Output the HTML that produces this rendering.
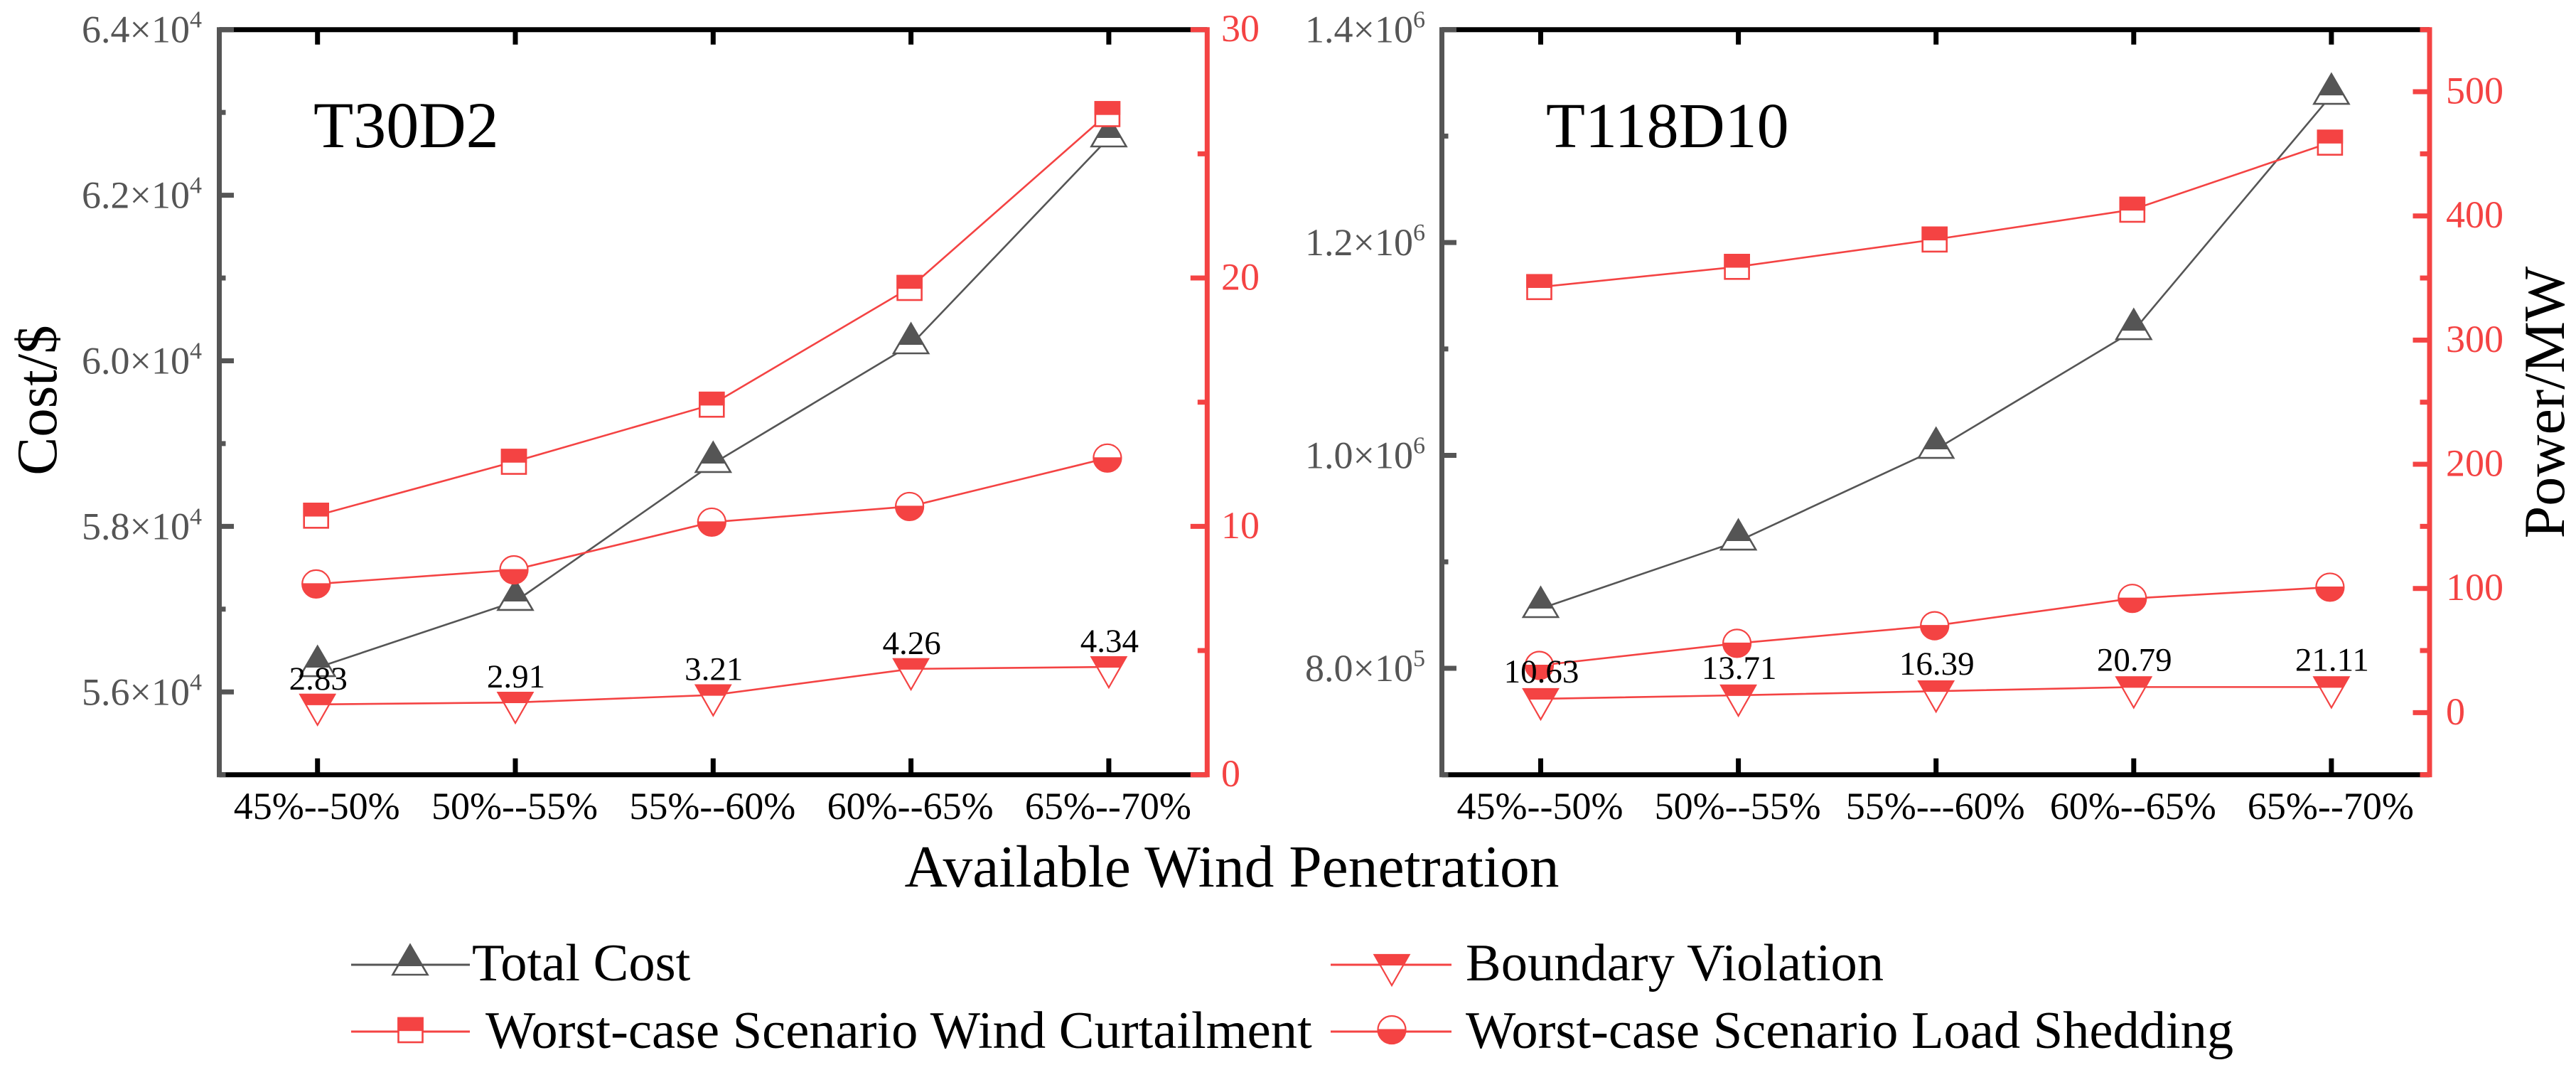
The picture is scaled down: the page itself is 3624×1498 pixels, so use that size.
<!DOCTYPE html>
<html lang="en">
<head>
<meta charset="utf-8">
<title>Cost and power versus available wind penetration</title>
<style>
html,body{margin:0;padding:0;background:#fff;}
body{width:3624px;height:1498px;overflow:hidden;}
svg{display:block;}
text{font-family:"Liberation Serif","Times New Roman",serif;}
</style>
</head>
<body>
<svg id="chart" xmlns="http://www.w3.org/2000/svg" width="3624" height="1498" viewBox="0 0 3624 1498"></svg>
<script>
// ---------- data ----------
const categoriesA = ['45%--50%','50%--55%','55%--60%','60%--65%','65%--70%'];
const categoriesB = ['45%--50%','50%--55%','55%---60%','60%--65%','65%--70%'];

const costA = [56294, 57093, 58759, 60193, 62692];
const windA = [10.43, 12.6, 14.9, 19.6, 26.6];
const loadA = [7.68, 8.25, 10.17, 10.8, 12.75];
const boundaryA = [2.83, 2.91, 3.21, 4.26, 4.34];
const boundaryLabelsA = ['2.83','2.91','3.21','4.26','4.34'];

const costB = [856090, 919540, 1005700, 1117200, 1338300];
const windB = [342.7, 359, 381, 405, 459];
const loadB = [38, 55.8, 70, 92, 101];
const boundaryB = [11.1, 14, 17.3, 20.6, 20.6];
const boundaryLabelsB = ['10.63','13.71','16.39','20.79','21.11'];

const leftMajorA = [56000, 58000, 60000, 62000, 64000];
const leftMantissaA = ['5.6','5.8','6.0','6.2','6.4'];
const leftExponentA = ['4','4','4','4','4'];
const leftMinorA = [55000, 57000, 59000, 61000, 63000];
const rightMajorA = [0, 10, 20, 30];
const rightMinorA = [5, 15, 25];

const leftMajorB = [800000, 1000000, 1200000, 1400000];
const leftMantissaB = ['8.0','1.0','1.2','1.4'];
const leftExponentB = ['5','6','6','6'];
const leftMinorB = [700000, 900000, 1100000, 1300000];
const rightMajorB = [0, 100, 200, 300, 400, 500];
const rightMinorB = [-50, 50, 150, 250, 350, 450, 550];

// ---------- drawing ----------
const GRAY = '#555555';
const RED = '#f44343';
const NS = 'http://www.w3.org/2000/svg';
const svg = document.getElementById('chart');

function mk(parent, tag, attrs, name, interactable) {
  const el = document.createElementNS(NS, tag);
  for (const k in attrs) el.setAttribute(k, attrs[k]);
  
  
  parent.appendChild(el);
  return el;
}
function label(parent, x, y, str, size, fill, name, anchor) {
  const t = mk(parent, 'text', {x: x, y: y, 'font-size': size, fill: fill, 'text-anchor': anchor || 'start'}, name, false);
  t.textContent = str;
  return t;
}
function marker(parent, kind, x, y, color, name) {
  const g = mk(parent, 'g', {}, name, false);
  if (kind === 'up') {
    mk(g, 'path', {d: `M${x} ${y-30}L${x+24.5} ${y+12}L${x-24.5} ${y+12}Z`, fill: '#fff', stroke: color, 'stroke-width': 2.6}, name + '-outline', false);
    const w = 24.5 * 30 / 42;
    mk(g, 'path', {d: `M${x} ${y-30}L${x+w} ${y}L${x-w} ${y}Z`, fill: color}, name + '-fill', false);
  } else if (kind === 'down') {
    mk(g, 'path', {d: `M${x-24.5} ${y-14}L${x+24.5} ${y-14}L${x} ${y+29}Z`, fill: '#fff', stroke: color, 'stroke-width': 2.2}, name + '-outline', false);
    const w = 24.5 * 28 / 43;
    mk(g, 'path', {d: `M${x-25.5} ${y-15}L${x+25.5} ${y-15}L${x+w} ${y+1}L${x-w} ${y+1}Z`, fill: color}, name + '-fill', false);
  } else if (kind === 'square') {
    mk(g, 'rect', {x: x-17, y: y-17, width: 34, height: 34, fill: '#fff', stroke: color, 'stroke-width': 2.6}, name + '-outline', false);
    mk(g, 'rect', {x: x-18.3, y: y-18.3, width: 36.6, height: 19.5, fill: color}, name + '-fill', false);
  } else {
    const r = 19.5;
    mk(g, 'circle', {cx: x, cy: y, r: r, fill: '#fff', stroke: color, 'stroke-width': 2.2}, name + '-outline', false);
    mk(g, 'path', {d: `M${x-r-1} ${y-1}A${r+1} ${r+1} 0 0 0 ${x+r+1} ${y-1}Z`, fill: color}, name + '-fill', false);
  }
  return g;
}

function drawPanel(cfg) {
  const p = mk(svg, 'g', {}, cfg.name, false);
  const xA = i => cfg.x0 + i * cfg.dx;
  const yL = v => cfg.bottom - (v - cfg.leftMin) / (cfg.leftMax - cfg.leftMin) * (cfg.bottom - cfg.top);
  const yR = v => cfg.bottom - (v - cfg.rightMin) / (cfg.rightMax - cfg.rightMin) * (cfg.bottom - cfg.top);

  // frame
  mk(p, 'line', {x1: cfg.left, x2: cfg.right, y1: cfg.top, y2: cfg.top, stroke: '#000', 'stroke-width': 7}, 'top-axis-line', false);
  mk(p, 'line', {x1: cfg.left, x2: cfg.right, y1: cfg.bottom, y2: cfg.bottom, stroke: '#000', 'stroke-width': 7}, 'bottom-axis-line', false);

  // x ticks and labels
  cfg.categories.forEach((c, i) => {
    mk(p, 'line', {x1: xA(i), x2: xA(i), y1: cfg.bottom, y2: cfg.bottom - 23, stroke: '#000', 'stroke-width': 7}, 'x-tick-bottom', false);
    mk(p, 'line', {x1: xA(i), x2: xA(i), y1: cfg.top, y2: cfg.top + 21, stroke: '#000', 'stroke-width': 7}, 'x-tick-top', false);
    label(p, xA(i) - 1, cfg.bottom + 62.5, c, 54, '#000', 'x-tick-label', 'middle');
  });

  // left axis
  mk(p, 'line', {x1: cfg.left, x2: cfg.left, y1: cfg.top - 3.5, y2: cfg.bottom + 3.5, stroke: GRAY, 'stroke-width': 7}, 'left-y-axis-line', false);
  cfg.leftMajor.forEach((v, i) => {
    mk(p, 'line', {x1: cfg.left, x2: cfg.left + 20.5, y1: yL(v), y2: yL(v), stroke: GRAY, 'stroke-width': 7}, 'left-y-major-tick', false);
    const t = mk(p, 'text', {x: cfg.leftLabelX, y: yL(v) + 18, 'font-size': 54, fill: GRAY}, 'left-y-tick-label', false);
    t.textContent = cfg.mantissa[i] + '\u00D7' + '10';
    const sup = document.createElementNS(NS, 'tspan');
    sup.setAttribute('font-size', '34');
    sup.setAttribute('dy', '-21');
    sup.textContent = cfg.exponent[i];
    t.appendChild(sup);
  });
  cfg.leftMinor.forEach(v => {
    mk(p, 'line', {x1: cfg.left, x2: cfg.left + 9, y1: yL(v), y2: yL(v), stroke: GRAY, 'stroke-width': 7}, 'left-y-minor-tick', false);
  });

  // right axis
  mk(p, 'line', {x1: cfg.right, x2: cfg.right, y1: cfg.top - 3.5, y2: cfg.bottom + 3.5, stroke: RED, 'stroke-width': 7}, 'right-y-axis-line', false);
  cfg.rightMajor.forEach(v => {
    mk(p, 'line', {x1: cfg.right, x2: cfg.right - 23.5, y1: yR(v), y2: yR(v), stroke: RED, 'stroke-width': 7}, 'right-y-major-tick', false);
    label(p, cfg.rightLabelX, yR(v) + 16.5, String(v), 54, RED, 'right-y-tick-label');
  });
  cfg.rightMinor.forEach(v => {
    mk(p, 'line', {x1: cfg.right, x2: cfg.right - 13.5, y1: yR(v), y2: yR(v), stroke: RED, 'stroke-width': 7}, 'right-y-minor-tick', false);
  });

  // series
  const series = [
    {name: 'total-cost', vals: cfg.cost, y: yL, color: GRAY, kind: 'up', dx: 0},
    {name: 'wind-curtailment', vals: cfg.wind, y: yR, color: RED, kind: 'square', dx: -2},
    {name: 'load-shedding', vals: cfg.load, y: yR, color: RED, kind: 'circle', dx: -2},
    {name: 'boundary-violation', vals: cfg.boundary, y: yR, color: RED, kind: 'down', dx: 0}
  ];
  series.forEach(s => {
    const pts = s.vals.map((v, i) => (xA(i) + s.dx) + ',' + s.y(v)).join(' ');
    mk(p, 'polyline', {points: pts, fill: 'none', stroke: s.color, 'stroke-width': 2.6}, s.name + '-line', false);
  });
  series.forEach(s => {
    s.vals.forEach((v, i) => {
      marker(p, s.kind, xA(i) + s.dx, s.y(v), s.color, s.name + '-marker');
    });
  });

  // printed values
  cfg.boundaryLabels.forEach((str, i) => {
    label(p, xA(i) + 1, yR(cfg.boundary[i]) - cfg.labelGap, str, 47, '#000', 'boundary-value-label', 'middle');
  });

  // panel title
  label(p, cfg.titleX, 207, cfg.title, cfg.titleSize, '#000', 'panel-title');
}

drawPanel({
  name: 'panel-t30d2', title: 'T30D2', titleX: 441, titleSize: 92,
  x0: 446.7, dx: 278.3, left: 308.5, right: 1698.3, top: 41.7, bottom: 1089.7,
  leftMin: 55000, leftMax: 64000, rightMin: 0, rightMax: 30,
  leftLabelX: 115, rightLabelX: 1718,
  categories: categoriesA, cost: costA, wind: windA, load: loadA, boundary: boundaryA,
  boundaryLabels: boundaryLabelsA, labelGap: 21,
  leftMajor: leftMajorA, mantissa: leftMantissaA, exponent: leftExponentA, leftMinor: leftMinorA,
  rightMajor: rightMajorA, rightMinor: rightMinorA
});
drawPanel({
  name: 'panel-t118d10', title: 'T118D10', titleX: 2175, titleSize: 90,
  x0: 2167.5, dx: 278.1, left: 2028.5, right: 3418, top: 41.7, bottom: 1089.7,
  leftMin: 700000, leftMax: 1400000, rightMin: -50, rightMax: 550,
  leftLabelX: 1836, rightLabelX: 3441,
  categories: categoriesB, cost: costB, wind: windB, load: loadB, boundary: boundaryB,
  boundaryLabels: boundaryLabelsB, labelGap: 23,
  leftMajor: leftMajorB, mantissa: leftMantissaB, exponent: leftExponentB, leftMinor: leftMinorB,
  rightMajor: rightMajorB, rightMinor: rightMinorB
});

// axis titles
label(svg, 1733, 1247, 'Available Wind Penetration', 83.5, '#000', 'x-axis-title', 'middle');
const costTitle = label(svg, 0, 0, 'Cost/$', 81, '#000', 'left-y-axis-title', 'middle');
costTitle.setAttribute('transform', 'translate(79 563) rotate(-90)');
const powerTitle = label(svg, 0, 0, 'Power/MW', 82, '#000', 'right-y-axis-title', 'middle');
powerTitle.setAttribute('transform', 'translate(3607 566) rotate(-90)');

// legend
const legend = mk(svg, 'g', {}, 'legend', false);
function legendEntry(name, text, x1, x2, lineY, mx, my, kind, color, textX, baseY) {
  const g = mk(legend, 'g', {}, 'legend-entry-' + name, false);
  mk(g, 'line', {x1: x1, x2: x2, y1: lineY, y2: lineY, stroke: color, 'stroke-width': 3}, 'legend-line', false);
  marker(g, kind, mx, my, color, 'legend-marker');
  label(g, textX, baseY, text, 74.5, '#000', 'legend-label');
}
legendEntry('total-cost', 'Total Cost', 494, 661, 1357, 577, 1359, 'up', GRAY, 664, 1379);
legendEntry('boundary-violation', 'Boundary Violation', 1872, 2042, 1357, 1958, 1357, 'down', RED, 2062, 1379);
legendEntry('wind-curtailment', 'Worst-case Scenario Wind Curtailment', 494, 661, 1451, 577.5, 1449, 'square', RED, 683, 1474);
legendEntry('load-shedding', 'Worst-case Scenario Load Shedding', 1872, 2042, 1451, 1958, 1448.5, 'circle', RED, 2062, 1474);
</script>
</body>
</html>
